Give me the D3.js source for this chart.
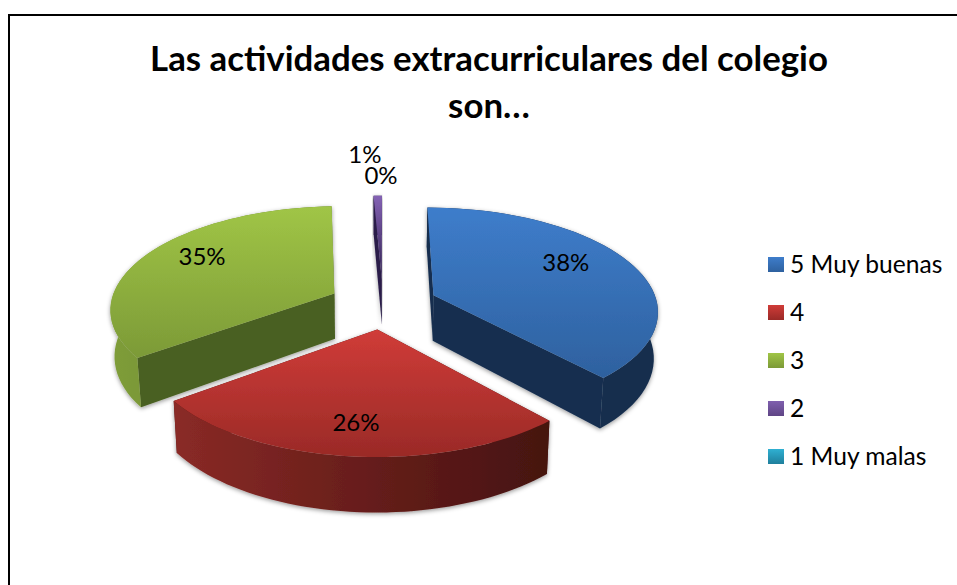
<!DOCTYPE html>
<html>
<head>
<meta charset="utf-8">
<style>
html, body { margin: 0; padding: 0; background: #fff; }
svg { display: block; }
text { font-family: Lato, "Open Sans", sans-serif; fill: #000; }
</style>
</head>
<body>
<svg id="chart" width="957" height="585"></svg>
<script src="https://d3js.org/d3.v7.min.js"></script>
<script>
var titleLines = ["Las actividades extracurriculares del colegio", "son…"];
var categories = ["5 Muy buenas", "4", "3", "2", "1 Muy malas"];
var percents = [38.4, 26.4, 34.5, 0.7, 0];

// colours per slice
var faceTop = ["#3e7dcb", "#d03c38", "#a0c546", "#8462b4", "#2fb0d2"];
var faceBottom = ["#2e619f", "#9a2a27", "#7c9a37", "#2f2050", "#1f7f9c"];
var wallColor = ["#162f50", "#4a1310", "#4a6020", "#2a1c48", "#14566a"];
var arcLeft = ["#152d4d", "#8a2a26", "#7f9d39", "#2a1c48", "#14566a"];
var arcRight = ["#152d4d", "#451210", "#5f7d2a", "#2a1c48", "#14566a"];
var keyTop = ["#3e7dcb", "#d03c38", "#a0c546", "#7f5fae", "#2fb0d2"];
var keyBottom = ["#2e619f", "#9a2a27", "#7c9a37", "#5f4585", "#1f7f9c"];

// pie geometry
var explode = 0.244, persp = 0.138, depth = 46, bottomShrink = 0.985;
var x = d3.scaleLinear().domain([-1, 1]).range([383 - 224, 383 + 224]);
var y = d3.scaleLinear().domain([-1, 1]).range([304 + 102, 304 - 102]);

var svg = d3.select("#chart");
var defs = svg.append("defs");

var shadow = defs.append("filter").attr("id", "shadow")
    .attr("x", "-10%").attr("y", "-10%").attr("width", "120%").attr("height", "125%");
shadow.append("feDropShadow").attr("dx", 0).attr("dy", 1.5).attr("stdDeviation", 2)
    .attr("flood-color", "#000").attr("flood-opacity", 0.4);

// border
svg.append("path").attr("d", "M9,585V15H957").attr("fill", "none").attr("stroke", "#000").attr("stroke-width", 2);

// title
svg.selectAll("text.title").data(titleLines).enter().append("text")
    .attr("class", "title")
    .attr("x", 489)
    .attr("y", function(d, i) { return 71 + i * 47; })
    .attr("text-anchor", "middle")
    .attr("font-weight", "bold")
    .attr("font-size", 34.8)
    .text(function(d) { return d; });

// project a point of the pie plane (and height z in px below it) to the screen
function project(px, py, z) {
  var s = 1 / (1 + persp * py);
  var sx = x(px * s);
  var sy = y(py * s) + z * s;
  if (z > 0) sx = x(0) + (sx - x(0)) * bottomShrink;
  return [sx, sy];
}

var line = d3.line();
var pie = d3.pie().sort(null).startAngle(0).endAngle(2 * Math.PI);
var arcs = pie(percents);

function sliceOffset(d) {
  var mid = (d.startAngle + d.endAngle) / 2;
  return [explode * Math.sin(mid), explode * Math.cos(mid)];
}

function rimPoints(d, z) {
  var off = sliceOffset(d), n = 48;
  return d3.range(n + 1).map(function(i) {
    var a = d.startAngle + (d.endAngle - d.startAngle) * i / n;
    return project(off[0] + Math.sin(a), off[1] + Math.cos(a), z);
  });
}

arcs.forEach(function(d, i) {
  var g1 = defs.append("linearGradient").attr("id", "face" + i)
      .attr("x1", 0).attr("y1", 0).attr("x2", 0).attr("y2", 1);
  g1.append("stop").attr("offset", 0).attr("stop-color", faceTop[i]);
  g1.append("stop").attr("offset", 1).attr("stop-color", faceBottom[i]);
  var g2 = defs.append("linearGradient").attr("id", "arc" + i)
      .attr("x1", 0).attr("y1", 0).attr("x2", 1).attr("y2", 0);
  g2.append("stop").attr("offset", 0).attr("stop-color", arcLeft[i]);
  g2.append("stop").attr("offset", 1).attr("stop-color", arcRight[i]);
});

// back slices first, red one is in front, the 0% slice has nothing to draw
var drawOrder = [0, 2, 3, 1];
drawOrder.forEach(function(i) {
  var d = arcs[i];
  var off = sliceOffset(d);
  var apexTop = project(off[0], off[1], 0);
  var apexBottom = project(off[0], off[1], depth);
  var rimTop = rimPoints(d, 0);
  var rimBottom = rimPoints(d, depth);
  var g = svg.append("g").attr("class", "slice").attr("filter", "url(#shadow)");

  // radial walls
  [0, rimTop.length - 1].forEach(function(k) {
    g.append("path")
      .attr("d", line([apexTop, rimTop[k], rimBottom[k], apexBottom]) + "Z")
      .attr("fill", wallColor[i]);
  });
  // outer wall
  g.append("path")
    .attr("d", line(rimTop.concat(rimBottom.slice().reverse())) + "Z")
    .attr("fill", "url(#arc" + i + ")");
  // top face
  g.append("path")
    .attr("d", line([apexTop].concat(rimTop)) + "Z")
    .attr("fill", "url(#face" + i + ")");
});

// percent labels
var labelRadius = [0.7, 0.62, 0.7, 1.25, 1.15];
var labelNudge = [[-6, -8], [-5, 20], [0, -8], [-12, -23], [-2, -9]];
arcs.forEach(function(d, i) {
  var off = sliceOffset(d);
  var mid = (d.startAngle + d.endAngle) / 2;
  var p = project(off[0] + labelRadius[i] * Math.sin(mid), off[1] + labelRadius[i] * Math.cos(mid), 0);
  svg.append("text")
    .attr("class", "pct")
    .attr("x", p[0] + labelNudge[i][0])
    .attr("y", p[1] + labelNudge[i][1] + 8)
    .attr("text-anchor", "middle")
    .attr("font-size", 24)
    .text(Math.round(percents[i]) + "%");
});

// legend
var legendY = d3.scalePoint().domain(categories).range([265, 457]);
categories.forEach(function(c, i) {
  var gr = defs.append("linearGradient").attr("id", "key" + i)
      .attr("x1", 0).attr("y1", 0).attr("x2", 0).attr("y2", 1);
  gr.append("stop").attr("offset", 0).attr("stop-color", keyTop[i]);
  gr.append("stop").attr("offset", 1).attr("stop-color", keyBottom[i]);
  svg.append("rect")
    .attr("x", 768).attr("y", legendY(c) - 8)
    .attr("width", 16).attr("height", 15)
    .attr("fill", "url(#key" + i + ")");
  svg.append("text")
    .attr("class", "key")
    .attr("x", 790).attr("y", legendY(c) + 8)
    .attr("font-size", 24.6)
    .text(c);
});
</script>
</body>
</html>
